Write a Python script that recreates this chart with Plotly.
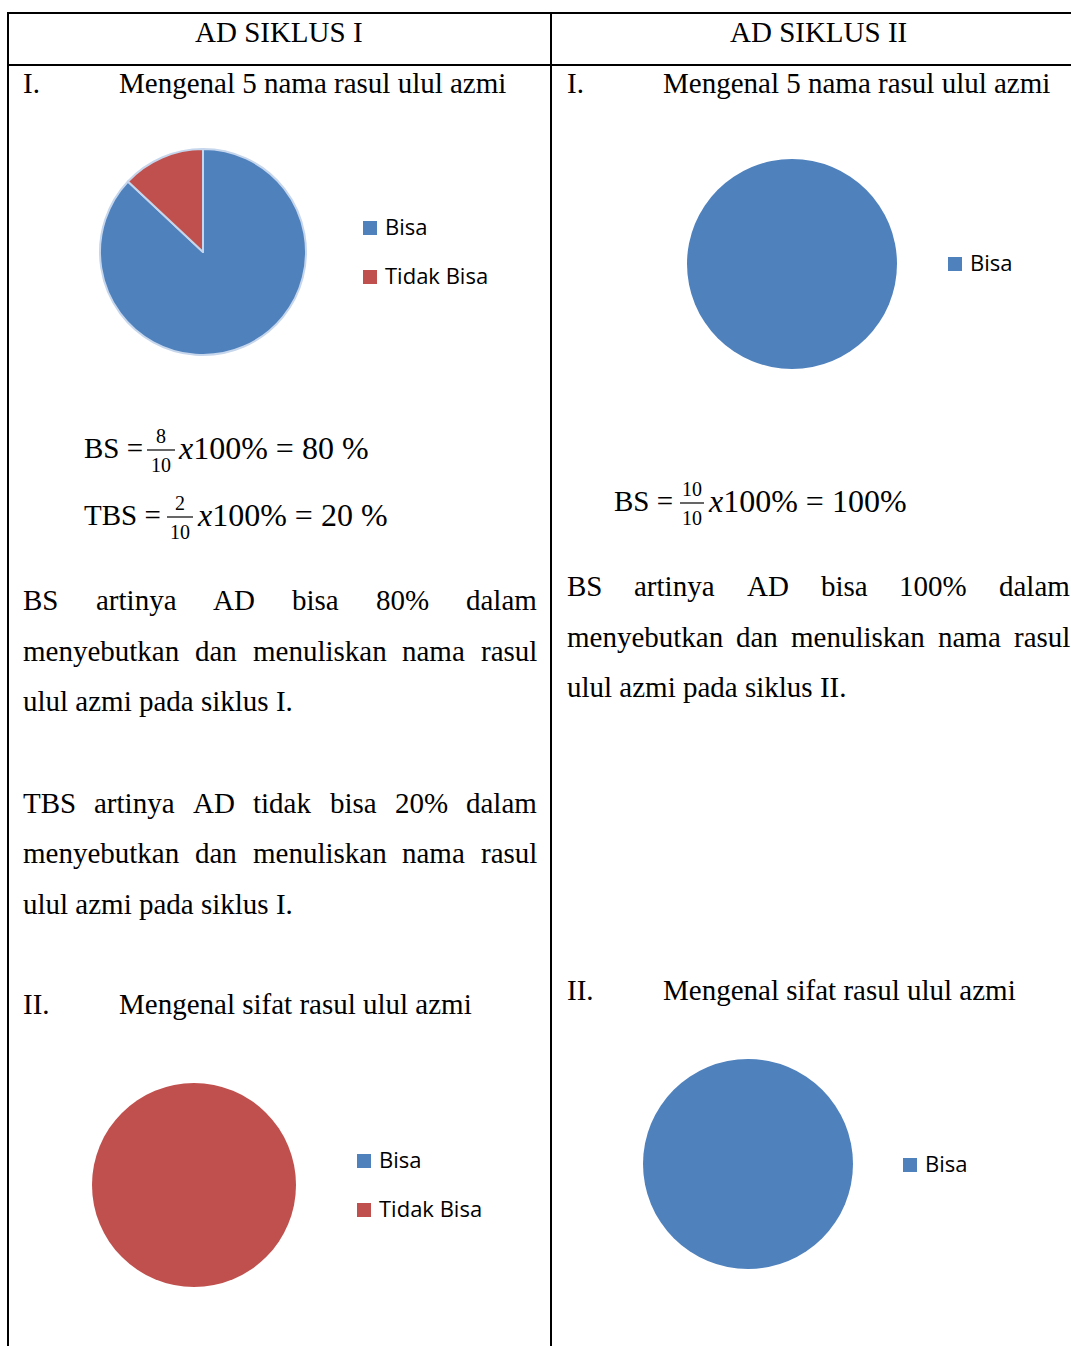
import plotly.graph_objects as go

# ---- data -------------------------------------------------------------
labels = ["Bisa", "Tidak Bisa"]
colors = ["#4f81bd", "#c0504d"]

siklus1_nama = [87, 13]     # Mengenal 5 nama rasul ulul azmi, siklus I
siklus1_sifat = [0, 100]    # Mengenal sifat rasul ulul azmi, siklus I
siklus2_nama = [100]        # siklus II (Bisa only)
siklus2_sifat = [100]

headers = ["AD SIKLUS I", "AD SIKLUS II"]

W, H = 1071, 1346
SERIF = "Liberation Serif, Times New Roman, serif"
SANS = "Open Sans, Calibri, sans-serif"
FS = 29
MATH_FS = 32


def px(x):
    return x / W


def py(y):
    return 1 - y / H


# Times-metric advance widths (per 1000 em) for justified lines
TW = {" ": 250, "%": 833, ".": 250, "A": 722, "B": 667, "D": 722, "I": 333,
      "S": 556, "T": 611, "a": 444, "b": 500, "d": 500, "e": 444, "g": 500,
      "h": 500, "i": 278, "k": 500, "l": 278, "m": 778, "n": 500, "p": 500,
      "r": 333, "s": 389, "t": 278, "u": 500, "y": 500, "z": 444}
for ch in "0123456789":
    TW[ch] = 500


def tw(s, size=FS):
    return sum(TW.get(c, 500) for c in s) / 1000 * size


annotations = []
shapes = []


def text(s, x, y, size=FS, family=SERIF, xanchor="left", color="#000"):
    annotations.append(dict(text=s, x=px(x), y=py(y), xref="paper", yref="paper",
                            xanchor=xanchor, yanchor="middle", showarrow=False,
                            borderpad=0, font=dict(family=family, size=size, color=color)))


def justified(line, x0, x1, y):
    words = line.split()
    gap = (x1 - x0 - sum(tw(w) for w in words)) / (len(words) - 1)
    x = x0
    for w in words:
        text(w, x, y)
        x += tw(w) + gap


def hline(x0, x1, y, width=2):
    shapes.append(dict(type="line", xref="paper", yref="paper", x0=px(x0), x1=px(x1),
                       y0=py(y), y1=py(y), line=dict(color="#000", width=width)))


def vline(x, y0, y1, width=2):
    shapes.append(dict(type="line", xref="paper", yref="paper", x0=px(x), x1=px(x),
                       y0=py(y0), y1=py(y1), line=dict(color="#000", width=width)))


def fraction(num, den, xc, yline, half):
    hline(xc - half, xc + half, yline, width=1.2)
    text(num, xc, yline - 14, size=20, xanchor="center")
    text(den, xc, yline + 15, size=20, xanchor="center")


def legend(items, x, ys):
    for (lab, col), y in zip(items, ys):
        shapes.append(dict(type="rect", xref="paper", yref="paper",
                           x0=px(x), x1=px(x + 14), y0=py(y + 7), y1=py(y - 7),
                           fillcolor=col, line=dict(width=0)))
        text(lab, x + 21, y - 2, size=22, family=SANS)


# ---- table grid -------------------------------------------------------
hline(8, W, 13)
hline(8, W, 65)
vline(8, 12, H)
vline(551, 12, H)

text(headers[0], 279, 32, xanchor="center")
text(headers[1], 818, 32, xanchor="center")

# ---- left column ------------------------------------------------------
text("I.", 22, 83)
text("Mengenal 5 nama rasul ulul azmi", 118, 83)

text("BS =", 83, 448)
fraction("8", "10", 161, 450, 14)
text("<i>x</i>100% = 80 %", 177, 448, size=MATH_FS)

text("TBS =", 83, 515)
fraction("2", "10", 180, 517, 13)
text("<i>x</i>100% = 20 %", 196, 515, size=MATH_FS)

justified("BS artinya AD bisa 80% dalam", 22, 536, 600)
justified("menyebutkan dan menuliskan nama rasul", 22, 536, 651)
text("ulul azmi pada siklus I.", 22, 701)

justified("TBS artinya AD tidak bisa 20% dalam", 22, 536, 803)
justified("menyebutkan dan menuliskan nama rasul", 22, 536, 853)
text("ulul azmi pada siklus I.", 22, 904)

text("II.", 22, 1004)
text("Mengenal sifat rasul ulul azmi", 118, 1004)

# ---- right column -----------------------------------------------------
text("I.", 566, 83)
text("Mengenal 5 nama rasul ulul azmi", 662, 83)

text("BS =", 613, 501)
fraction("10", "10", 692, 503, 12)
text("<i>x</i>100% = 100%", 707, 501, size=MATH_FS)

justified("BS artinya AD bisa 100% dalam", 566, 1069, 586)
justified("menyebutkan dan menuliskan nama rasul", 566, 1069, 637)
text("ulul azmi pada siklus II.", 566, 687)

text("II.", 566, 990)
text("Mengenal sifat rasul ulul azmi", 662, 990)

# ---- pies -------------------------------------------------------------
def pie(lbls, vals, cx, cy, r, line_color=None):
    return go.Pie(
        labels=lbls, values=vals, sort=False, direction="clockwise", rotation=0,
        marker=dict(colors=colors[:len(lbls)],
                    line=dict(color=line_color or "rgba(0,0,0,0)",
                              width=2 if line_color else 0)),
        textinfo="none", hoverinfo="label+percent", showlegend=False,
        domain=dict(x=[px(cx - r), px(cx + r)], y=[py(cy + r), py(cy - r)]),
    )


fig = go.Figure()
fig.add_trace(pie(labels, siklus1_nama, 203, 252, 103, line_color="#c6d6ec"))
fig.add_trace(pie(labels[:1], siklus2_nama, 792, 264, 105))
fig.add_trace(pie(labels, siklus1_sifat, 194, 1185, 102))
fig.add_trace(pie(labels[:1], siklus2_sifat, 748, 1164, 105))

legend(list(zip(labels, colors)), 363, [228, 277])
legend(list(zip(labels[:1], colors)), 948, [264])
legend(list(zip(labels, colors)), 357, [1161, 1210])
legend(list(zip(labels[:1], colors)), 903, [1165])

fig.update_layout(
    width=W, height=H, autosize=False,
    margin=dict(l=0, r=0, t=0, b=0),
    paper_bgcolor="#ffffff", plot_bgcolor="#ffffff",
    annotations=annotations, shapes=shapes,
)

fig.write_html("out.html")
